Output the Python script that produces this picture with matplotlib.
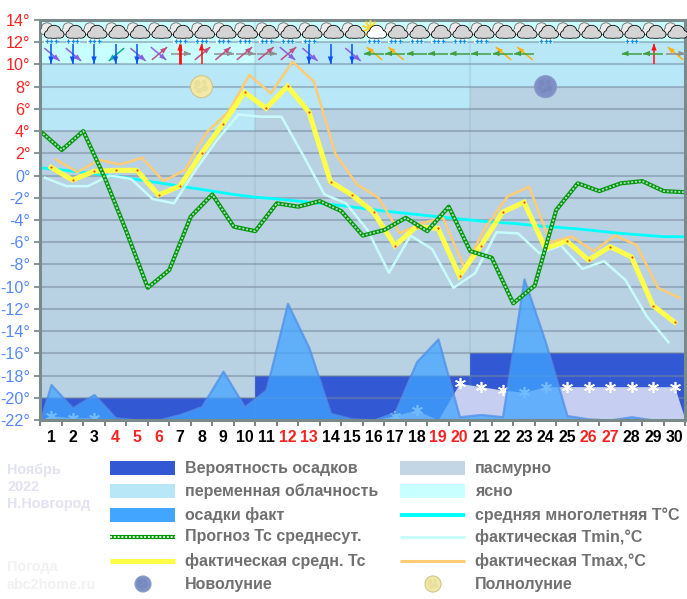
import numpy as np
import matplotlib
matplotlib.use("Agg")
import matplotlib.pyplot as plt
from matplotlib.patches import Circle, Ellipse, Rectangle, Polygon

plt.rcParams['font.family'] = ['Liberation Sans', 'DejaVu Sans']

# данные
days = np.arange(1, 31)
edges = np.arange(0.5, 31)
red_days = [4, 5, 6, 12, 13, 19, 20, 26, 27]
yticks = np.arange(-22, 15, 2)

decade_left = [0.5, 10.5, 20.5]
decade_width = [10, 10, 10]
prob_top = [-20, -18, -16]
overcast_top = [4, 6, 8]
variable_top = [10, 12, 12]

t_avg = [0.7, 0.5, 0.3, 0.05, -0.2, -0.5, -0.8, -1.1, -1.4, -1.7, -1.95, -2.1, -2.3, -2.5, -2.7, -2.95,
         -3.2, -3.4, -3.6, -3.8, -4.0, -4.2, -4.3, -4.5, -4.65, -4.8, -5.0, -5.2, -5.35, -5.5, -5.5]
t_forecast = [4.0, 2.3, 4.0, -0.2, -5.0, -10.1, -8.5, -3.7, -1.7, -4.6, -5.0, -2.5, -2.8, -2.3, -3.2, -5.4,
              -4.9, -3.8, -5.0, -2.8, -6.8, -7.4, -11.5, -9.9, -3.1, -0.7, -1.4, -0.7, -0.5, -1.4, -1.5]
t_fact = [0.74, -0.4, 0.38, 0.47, 0.47, -1.75, -0.94, 2.0, 4.64, 7.5, 6.05, 8.05, 5.7, -0.55, -1.75,
          -3.3, -6.3, -4.6, -4.75, -9.04, -6.3, -3.3, -2.4, -6.55, -5.9, -7.6, -6.4, -7.33, -11.7, -13.2]
t_max = [1.46, 0.3, 1.4, 1.0, 1.6, -0.5, 0.5, 3.86, 5.7, 9.05, 7.4, 10.25, 8.45, 1.94, -0.8,
         -2.0, -5.2, -4.3, -3.8, -8.3, -4.6, -1.9, -1.0, -6.0, -5.5, -6.8, -5.4, -6.25, -10.1, -11.0]
t_min = [-0.2, -0.95, -0.95, 0.0, -0.3, -2.1, -2.5, 0.5, 3.2, 5.5, 5.3, 5.3, 1.85, -1.7, -2.5,
         -4.9, -8.75, -5.4, -6.6, -10.1, -8.8, -5.1, -5.2, -7.0, -6.3, -8.4, -7.7, -9.4, -12.7, -15.0]
rain = [-18.8, -20.9, -19.7, -21.8, -22, -22, -21.5, -20.8, -17.6, -20.8, -19.3, -11.5, -15.5, -21.4, -21.9,
        -22, -21.3, -16.75, -14.7, -21.7, -21.5, -21.7, -9.3, -15.0, -21.6, -21.9, -22, -21.7, -22, -22]
snow = [-21.6, -21.8, -21.8, -22, -22, -22, -22, -22, -22, -22, -22, -22, -22, -22, -22,
        -22, -21.6, -21.1, -22, -18.7, -19.0, -19.3, -19.5, -19.0, -19, -19, -19, -19, -19, -19]

# ветер: стрелка показывает направление
wind_a = ['S', 'S', 'S', 'S', 'S', 'SE', 'N', 'N', 'NE', 'NE', 'NE', 'SE', 'S', 'S', 'S',
          'W', 'W', 'W', 'W', 'W', 'W', 'W', 'W', '', '', '', '', 'W', 'W', 'E']
wind_b = ['SE', 'SE', '', 'SW', 'SE', 'NE', 'E', 'NE', 'E', 'E', 'E', 'NE', 'SE', '', 'SE',
          'NW', 'NW', '', '', '', '', 'NW', 'NW', '', '', '', '', '', 'N', 'NW']
rain_icon = [1, 2, 3, 7, 8, 9, 10, 11, 12, 13, 16, 17, 18, 19, 20, 21, 24, 28]
sun_day = 16
full_moon_day = 8
new_moon_day = 24
moon_level = 8

legend_left = ["Вероятность осадков", "переменная облачность", "осадки факт",
               "Прогноз Тс среднесут.", "фактическая средн. Тс", "Новолуние"]
legend_right = ["пасмурно", "ясно", "средняя многолетняя T°C",
                "фактическая Tmin,°C", "фактическая Tmax,°C", "Полнолуние"]

# цвета
c_prob = '#3358d4'
c_over = '#b8d2e4'
c_var = '#b8e8f8'
c_clear = '#c8ffff'
c_rain = '#42a5ff'
c_green = '#009a00'
c_yellow = '#ffff4a'
c_avg = '#00ffff'
c_tmin = '#c8fbfb'
c_tmax = '#ffcb73'
c_red = '#ff2020'
c_blue = '#5588ff'
c_axis = '#7a8a8a'
c_text = '#707070'
wind_color = {'S': '#0a50ff', 'N': '#ff1010', 'E': '#909090', 'W': '#40a040',
              'SE': '#8a60e0', 'NE': '#c05080', 'SW': '#10b090', 'NW': '#ffb010'}
wind_vec = {'S': (0, 1), 'N': (0, -1), 'E': (1, 0), 'W': (-1, 0),
            'SE': (.77, .64), 'NE': (.77, -.64), 'SW': (-.77, .64), 'NW': (-.77, -.64)}

W, H = 687, 599
fig = plt.figure(figsize=(W / 100, H / 100), dpi=100)
ax = fig.add_axes([40.25 / W, (H - 420) / H, 645 / W, 400 / H])
ax.set_xlim(0.5, 30.5)
ax.set_ylim(-22, 14)

# фон по декадам
ax.bar(decade_left, np.array(overcast_top) + 22, decade_width, bottom=-22, align='edge', color=c_over, zorder=1)
ax.bar(decade_left, np.array(variable_top) - overcast_top, decade_width, bottom=overcast_top, align='edge',
       color=c_var, zorder=1)
ax.bar(decade_left, 14 - np.array(variable_top), decade_width, bottom=variable_top, align='edge',
       color=c_clear, zorder=1)
ax.bar(decade_left, np.array(prob_top) + 22, decade_width, bottom=-22, align='edge', color=c_prob, zorder=1)
for x in decade_left[1:]:
    ax.axvline(x, color='#7f9f9f', alpha=0.18, lw=1.6, zorder=1.5)
for y in yticks[1:-1]:
    ax.axhline(y, color='#76879a', alpha=0.5, lw=1.5, zorder=2)

# снег и осадки
ax.fill_between(np.r_[0.5, days, 30.5], np.r_[-22, snow, -22], -22, color='#c6cff2', lw=0, zorder=3)
snow_arr = np.array(snow)
ax.plot(days[snow_arr > -22], snow_arr[snow_arr > -22], ls='', marker=(6, 2, 0), ms=8, mew=1.2, color='white', zorder=3.5)
ax.fill_between(np.r_[0.5, days, 30.5], np.r_[-22, rain, -22], -22, facecolor=c_rain, alpha=0.75,
                edgecolor='#4f8fe8', lw=1.6, zorder=4)

# кривые температуры
ax.plot(edges, t_avg, color=c_avg, lw=2, zorder=5, solid_capstyle='butt')
ax.plot(days - 0.28, t_min, color=c_tmin, lw=1.8, zorder=5)
ax.plot(days + 0.23, t_max, color=c_tmax, lw=1.8, zorder=5)
ax.plot(days, t_fact, color=c_yellow, lw=3.6, zorder=6, solid_joinstyle='miter')
ax.plot(days, t_fact, ls='', marker='o', ms=1.6, mew=0, color='#ff4020', zorder=6.2)
ax.plot(edges, t_forecast, color=c_green, lw=3.0, zorder=7)
ax.plot(edges, t_forecast, color='#b4d4dc', lw=1.3, ls=(0, (1.1, 1.0)), dash_capstyle='butt', zorder=7.1)

# оси
ax.set_yticks(yticks)
ax.set_yticklabels([f"{v}°" for v in yticks], fontsize=11.6)
for lab, v in zip(ax.get_yticklabels(), yticks):
    lab.set_color(c_red if v > 0 else c_blue)
ax.set_xticks(days)
ax.set_xticklabels(days, fontsize=11.4, fontweight='bold')
for lab, d in zip(ax.get_xticklabels(), days):
    lab.set_color(c_red if d in red_days else 'black')
ax.set_xticks(edges, minor=True)
ax.tick_params(axis='x', which='major', length=0, pad=7)
ax.tick_params(axis='x', which='minor', length=4.3, width=1.4, color='#808080')
ax.tick_params(axis='y', length=4.5, width=1.5, color='#8a98a0', pad=2.5)
for s in ax.spines.values():
    s.set_color(c_axis)
    s.set_linewidth(2.2)
    s.set_zorder(8)

# верхний слой в пикселях картинки: иконки и легенда
ov = fig.add_axes([0, 0, 1, 1], zorder=10)
ov.set_xlim(0, W)
ov.set_ylim(H, 0)
ov.axis('off')
ov.patch.set_alpha(0)


def day_px(d):
    return ax.transData.transform((d, 0))[0]


def level_px(v):
    return H - ax.transData.transform((1, v))[1]


def blob(parts, face, edge, z):
    for cx, cy, rx, ry in parts:
        ov.add_patch(Ellipse((cx, cy), 2 * rx + 1.6, 2 * ry + 1.6, fc=edge, ec='none', zorder=z))
    for cx, cy, rx, ry in parts:
        ov.add_patch(Ellipse((cx, cy), 2 * rx, 2 * ry, fc=face, ec='none', zorder=z + 0.1))


def cloud(cx, sun=False):
    if sun:
        ov.plot([cx - 4], [28], marker=(10, 2, 0), ms=12, mew=1, color='#ffd830', zorder=11)
    else:
        blob([(cx - 4, 27.5, 5, 4.3), (cx - 7, 31, 3.2, 3.2), (cx - 1, 31, 5, 3.5)], '#ececec', '#666666', 11)
    face = 'white' if sun else '#d4d4d4'
    blob([(cx + 3, 31.5, 6.5, 5.8), (cx - 2.5, 34.3, 3.6, 3.4), (cx + 9, 34.3, 3.6, 3.4), (cx + 3, 35.3, 9, 2.6)],
         face, 'black', 12)


def arrow(cx, cy, kind, lw=1.1):
    ux, uy = wind_vec[kind]
    size = 10
    col = wind_color[kind]
    ov.plot([cx - ux * size, cx + ux * size], [cy - uy * size, cy + uy * size], color=col, lw=lw,
            solid_capstyle='butt', zorder=13)
    tx, ty = cx + ux * size, cy + uy * size
    bx, by = tx - ux * 7, ty - uy * 7
    ov.add_patch(Polygon([(tx, ty), (bx - uy * 2.7, by + ux * 2.7), (bx + uy * 2.7, by - ux * 2.7)],
                         fc=col, ec='none', zorder=13))


def moon(cx, cy, r, face, edge, spot):
    ov.add_patch(Circle((cx, cy), r, fc=face, ec=edge, lw=0.8, zorder=9))
    for dx, dy, k in [(-.35, -.3, .3), (.25, -.4, .22), (.3, .15, .3), (-.2, .35, .25), (-.55, .1, .15)]:
        ov.add_patch(Circle((cx + dx * r, cy + dy * r), k * r, fc=spot, ec='none', alpha=0.22, zorder=9.1))


row_y = 53.5
for d in days:
    cx = day_px(d)
    cloud(cx, sun=(d == sun_day))
    if d in rain_icon:
        ov.add_patch(Rectangle((cx - 7, 39), 14, 4, fc='white', ec='none', zorder=12.5))
        ov.plot([cx - 4.5, cx, cx + 4.5], [41, 41, 41], ls='', marker='+', ms=3.5, mew=1, color='#1090e0', zorder=12.6)
    a, b = wind_a[d - 1], wind_b[d - 1]
    if b:
        arrow(cx + 1, row_y + (1 if b in ('SE', 'SW') else 0), b)
    if a:
        arrow(cx + (1 if a == 'E' else 0), row_y, a, lw=2 if d == 7 else 1.1)

moon(day_px(full_moon_day), level_px(moon_level), 11, '#f3e9a6', '#cfc48e', '#c8bd7c')
moon(day_px(new_moon_day), level_px(moon_level), 11, '#7f90c4', '#8a9acb', '#5d6fa0')

# легенда
rows = [468, 491, 515, 537, 561, 584]
left_x, right_x = 110, 400
swatch_w, swatch_h = 65, 14
for y, t in zip(rows, legend_left):
    ov.text(left_x + 75, y, t, fontsize=11.5, fontweight='bold', color=c_text, va='center', ha='left')
for y, t in zip(rows, legend_right):
    ov.text(right_x + 75, y, t, fontsize=11.5, fontweight='bold', color=c_text, va='center', ha='left')
ov.add_patch(Rectangle((left_x, rows[0] - 7), swatch_w, swatch_h, fc=c_prob, ec='none'))
ov.add_patch(Rectangle((left_x, rows[1] - 7), swatch_w, swatch_h, fc=c_var, ec='none'))
ov.add_patch(Rectangle((left_x, rows[2] - 7), swatch_w, swatch_h, fc=c_rain, ec='none'))
ov.plot([left_x, left_x + swatch_w], [rows[3], rows[3]], color=c_green, lw=3.0, solid_capstyle='butt')
ov.plot([left_x, left_x + swatch_w], [rows[3], rows[3]], color='white', lw=1.3, ls=(0, (1.1, 1.0)), dash_capstyle='butt')
ov.plot([left_x, left_x + swatch_w], [rows[4], rows[4]], color=c_yellow, lw=3.6, solid_capstyle='butt')
moon(left_x + 33, rows[5], 8, '#7f90c4', '#8a9acb', '#5d6fa0')
ov.add_patch(Rectangle((right_x, rows[0] - 7), swatch_w, swatch_h, fc='#c3d6e6', ec='none'))
ov.add_patch(Rectangle((right_x, rows[1] - 7), swatch_w, swatch_h, fc=c_clear, ec='none'))
ov.plot([right_x, right_x + swatch_w], [rows[2], rows[2]], color=c_avg, lw=2.8, solid_capstyle='butt')
ov.plot([right_x, right_x + swatch_w], [rows[3], rows[3]], color=c_tmin, lw=2.2, solid_capstyle='butt')
ov.plot([right_x, right_x + swatch_w], [rows[4], rows[4]], color=c_tmax, lw=2.2, solid_capstyle='butt')
moon(right_x + 33, rows[5], 8, '#f3e9a6', '#cfc48e', '#c8bd7c')

# подписи слева
for y, t in zip([470, 487, 504], ["Ноябрь", "2022", "Н.Новгород"]):
    ov.text(7, y, t, fontsize=10.4, fontweight='bold', color='#e2e2f2', va='center')
for y, t in zip([567, 585], ["Погода", "abc2home.ru"]):
    ov.text(7, y, t, fontsize=10.4, fontweight='bold', color='#f1f1f1', va='center')

fig.savefig("out.png", dpi=100)
